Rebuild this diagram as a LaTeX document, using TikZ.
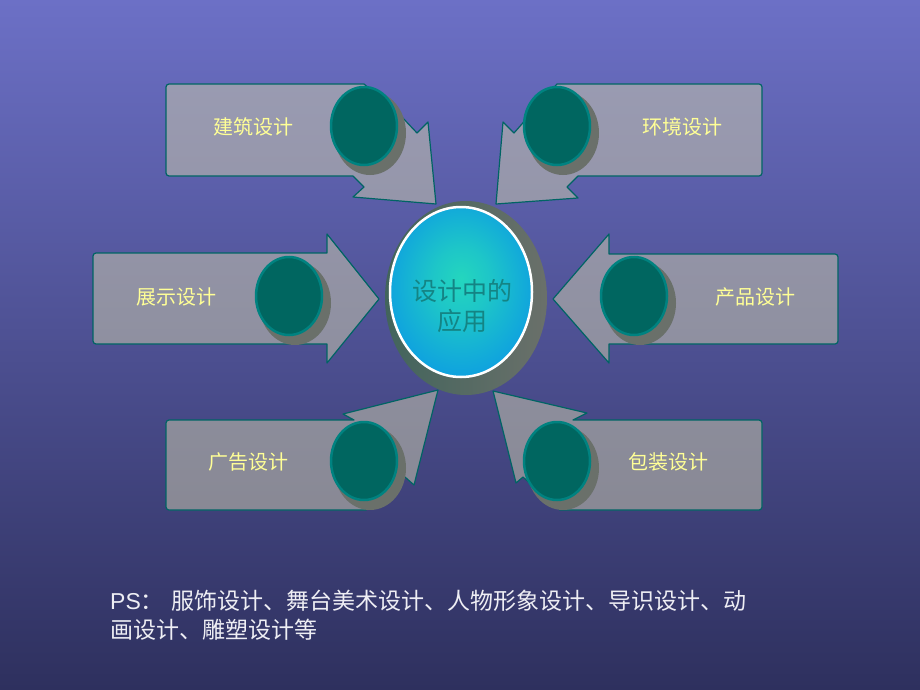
\documentclass[tikz,border=0pt]{standalone}
\usepackage{fontspec}
\setmainfont{Liberation Sans}
\newfontfamily\cjk{Noto Sans CJK SC}
\usetikzlibrary{calc}
\definecolor{bgtop}{RGB}{108,112,198}
\definecolor{bgmid}{RGB}{86,86,164}
\definecolor{bgbot}{RGB}{46,48,94}
\definecolor{boxfill}{RGB}{198,197,172}
\definecolor{boxline}{RGB}{0,100,100}
\definecolor{discfill}{RGB}{0,102,96}
\definecolor{discline}{RGB}{0,130,128}
\definecolor{discshade}{RGB}{106,112,106}
\definecolor{hubshade}{RGB}{66,100,92}
\definecolor{labelyellow}{RGB}{255,255,150}
\definecolor{hubtext}{RGB}{20,132,132}
\definecolor{hubin}{RGB}{36,214,190}
\definecolor{hubout}{RGB}{10,150,230}
\definecolor{notetext}{RGB}{238,238,244}
\pgfdeclareradialshading{hubglow}{\pgfpoint{0bp}{4bp}}{color(0bp)=(hubin); color(10bp)=(hubin!75!hubout); color(32bp)=(hubout); color(50bp)=(hubout)}

\begin{document}
\begin{tikzpicture}[x=1pt,y=-1pt,
    panel/.style={fill=boxfill,fill opacity=0.55,draw=boxline,line width=1.2pt,line join=round},
    disc/.style={fill=discfill,draw=discline,line width=2.5pt},
    discback/.style={fill=discshade},
    lbl/.style={font=\cjk\fontsize{20}{24}\selectfont,text=labelyellow,inner sep=0pt},
    hubtxt/.style={font=\cjk\fontsize{25}{30}\selectfont,text=hubtext,align=center,inner sep=0pt},
    note/.style={font=\cjk\fontsize{23}{29}\selectfont,text=notetext,align=left,inner sep=0pt}]
    \shade[top color=bgtop,middle color=bgmid,bottom color=bgbot](0,0)rectangle(920,690);
    \useasboundingbox(0,0)rectangle(920,690);
    \draw[panel](166,130)[rounded corners=3pt]--(166,84)[sharp corners]--(364,84)--(400,115)--(417,133)--(428,122)--(436,204)--(353,197)--(364,187)--(353,176)[rounded corners=3pt]--(166,176)--cycle;
    \draw[panel](762,130)[rounded corners=3pt]--(762,84)[sharp corners]--(557,84)--(514,133)--(503,122)--(496,204)--(578,198)--(567,187)--(578,176)[rounded corners=3pt]--(762,176)--cycle;
    \draw[panel](93,298)[rounded corners=3pt]--(93,253)[sharp corners]--(327,253)--(327,234)--(379,299)--(327,363)--(327,344)[rounded corners=3pt]--(93,344)--cycle;
    \draw[panel](838,298)[rounded corners=3pt]--(838,254)[sharp corners]--(609,254)--(609,234)--(553,299)--(609,363)--(609,344)[rounded corners=3pt]--(838,344)--cycle;
    \draw[panel](166,465)[rounded corners=3pt]--(166,420)[sharp corners]--(354,420)--(343,414)--(438,390)--(414,485)--(405,477)--(366,510)[rounded corners=3pt]--(166,510)--cycle;
    \draw[panel](762,465)[rounded corners=3pt]--(762,420)[sharp corners]--(573,420)--(587,413)--(493,391)--(516,483)--(523,477)--(560,510)[rounded corners=3pt]--(762,510)--cycle;
    \foreach \x/\y in {364/126,557/126,289/296,634/296,364/461,557/461}{
      \fill[discback](\x+6,\y+7)ellipse[x radius=36pt,y radius=42pt];
      \draw[disc](\x,\y)ellipse[x radius=33pt,y radius=39pt];
    }
    \shade[left color=hubshade,right color=discshade](466,298)ellipse[x radius=81pt,y radius=97pt];
    \shadedraw[shading=hubglow,draw=white,line width=2.5pt](461,292)ellipse[x radius=71pt,y radius=85pt];
    \node[hubtxt](hub)at(462,306){设计中的\\应用};
    \node[lbl](jianzhu)at(253,127){建筑设计};
    \node[lbl](huanjing)at(682,127){环境设计};
    \node[lbl](zhanshi)at(176,297){展示设计};
    \node[lbl](chanpin)at(755,297){产品设计};
    \node[lbl](guanggao)at(248,462){广告设计};
    \node[lbl](baozhuang)at(668,462){包装设计};
    \node[note,anchor=north west](ps)at(110,590){{\rmfamily PS}：\,\,服饰设计、舞台美术设计、人物形象设计、导识设计、动\\画设计、雕塑设计等};
  \end{tikzpicture}
\end{document}
